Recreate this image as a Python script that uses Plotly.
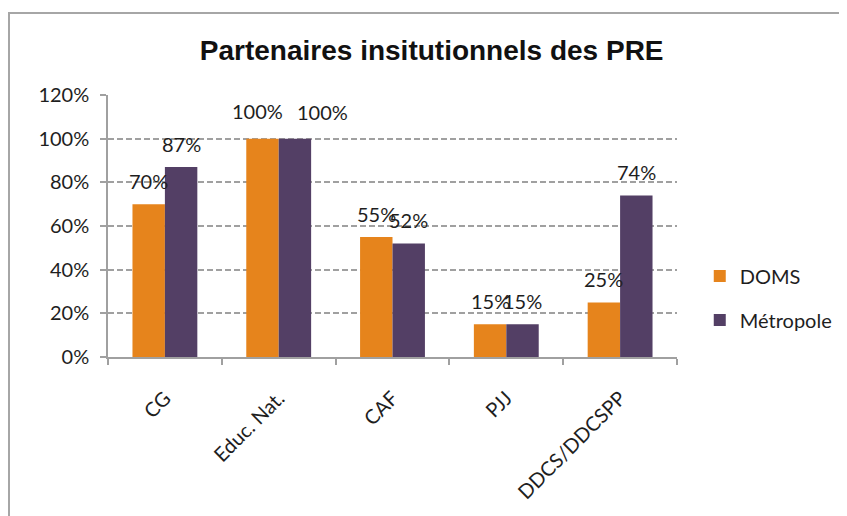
import plotly.graph_objects as go

categories = ["CG", "Educ. Nat.", "CAF", "PJJ", "DDCS/DDCSPP"]
doms = [70, 100, 55, 15, 25]
metropole = [87, 100, 52, 15, 74]
y_ticks = [0, 20, 40, 60, 80, 100, 120]
y_tick_labels = ["0%", "20%", "40%", "60%", "80%", "100%", "120%"]

# manual label nudges (pixels), like hand-moved data labels
doms_label_dx = [0, -5, 0, 0, 0]
doms_label_dy = [0, 5, 0, 0, 0]
metro_label_dx = [0, 28, 0, 0, 0]
metro_label_dy = [0, 4, 0, 0, 0]

FONT = "Lato, 'Open Sans', sans-serif"
ORANGE = "#E6841C"
PURPLE = "#533F65"
GRAY = "#A0A0A0"
TXT = "#1E1E1E"

W, H = 839, 508
L, T = 100, 87
PW, PH = 569, 262
BARGAP = 0.43

fig = go.Figure()
fig.add_trace(go.Bar(x=categories, y=doms, name="DOMS", marker_color=ORANGE,
                     marker_line_width=0, legendgroup="a"))
fig.add_trace(go.Bar(x=categories, y=metropole, name="Métropole", marker_color=PURPLE,
                     marker_line_width=0, legendgroup="b"))

cat_px = PW / len(categories)
half_bar = cat_px * (1 - BARGAP) / 4.0

for i, c in enumerate(categories):
    fig.add_annotation(x=c, y=doms[i], xref="x", yref="y", text=f"{doms[i]}%",
                       showarrow=False, xanchor="center", yanchor="bottom",
                       xshift=-half_bar + doms_label_dx[i], yshift=9 + doms_label_dy[i],
                       font=dict(family=FONT, size=20, color=TXT))
    fig.add_annotation(x=c, y=metropole[i], xref="x", yref="y", text=f"{metropole[i]}%",
                       showarrow=False, xanchor="center", yanchor="bottom",
                       xshift=half_bar + metro_label_dx[i], yshift=9 + metro_label_dy[i],
                       font=dict(family=FONT, size=20, color=TXT))

fig.update_layout(
    width=W, height=H,
    margin=dict(l=L, r=W - L - PW, t=T, b=H - T - PH, autoexpand=False),
    paper_bgcolor="white", plot_bgcolor="white",
    barmode="group", bargap=BARGAP, bargroupgap=0,
    title=dict(text="<b>Partenaires insitutionnels des PRE</b>",
               font=dict(family="'Liberation Sans', Arial, sans-serif", size=28, color="#111111"),
               x=0.505, xanchor="center", xref="container",
               y=0.917, yanchor="middle", yref="container"),
    legend=dict(x=1.040, xanchor="left", y=0.225, yanchor="middle",
                font=dict(family=FONT, size=20, color=TXT),
                tracegroupgap=15, traceorder="grouped",
                bgcolor="rgba(0,0,0,0)"),
    showlegend=True,
    font=dict(family=FONT, size=20, color=TXT),
)

fig.update_yaxes(
    range=[0, 120], tickvals=y_ticks, ticktext=y_tick_labels,
    showgrid=True, gridcolor=GRAY, griddash="6px,3px", gridwidth=1.5,
    showline=True, linecolor=GRAY, linewidth=1.5,
    ticks="outside", ticklen=6, tickcolor=GRAY, tickwidth=1.5,
    zeroline=False,
    tickfont=dict(family=FONT, size=20, color=TXT),
    ticklabelstandoff=7,
)
fig.update_xaxes(
    showline=True, linecolor=GRAY, linewidth=1.5,
    ticks="outside", ticklen=6, tickcolor=GRAY, tickwidth=1.5,
    tickson="boundaries", tickangle=-45,
    tickfont=dict(family=FONT, size=20, color=TXT),
    ticklabelstandoff=20,
)

fig.add_shape(type="rect", xref="paper", yref="paper",
              x0=(1 - L) / PW, x1=1.6, y0=-1.0, y1=1 + (T - 5) / PH,
              line=dict(color="#A6A6A6", width=2), fillcolor="rgba(0,0,0,0)",
              layer="below")

fig.write_html("out.html")
